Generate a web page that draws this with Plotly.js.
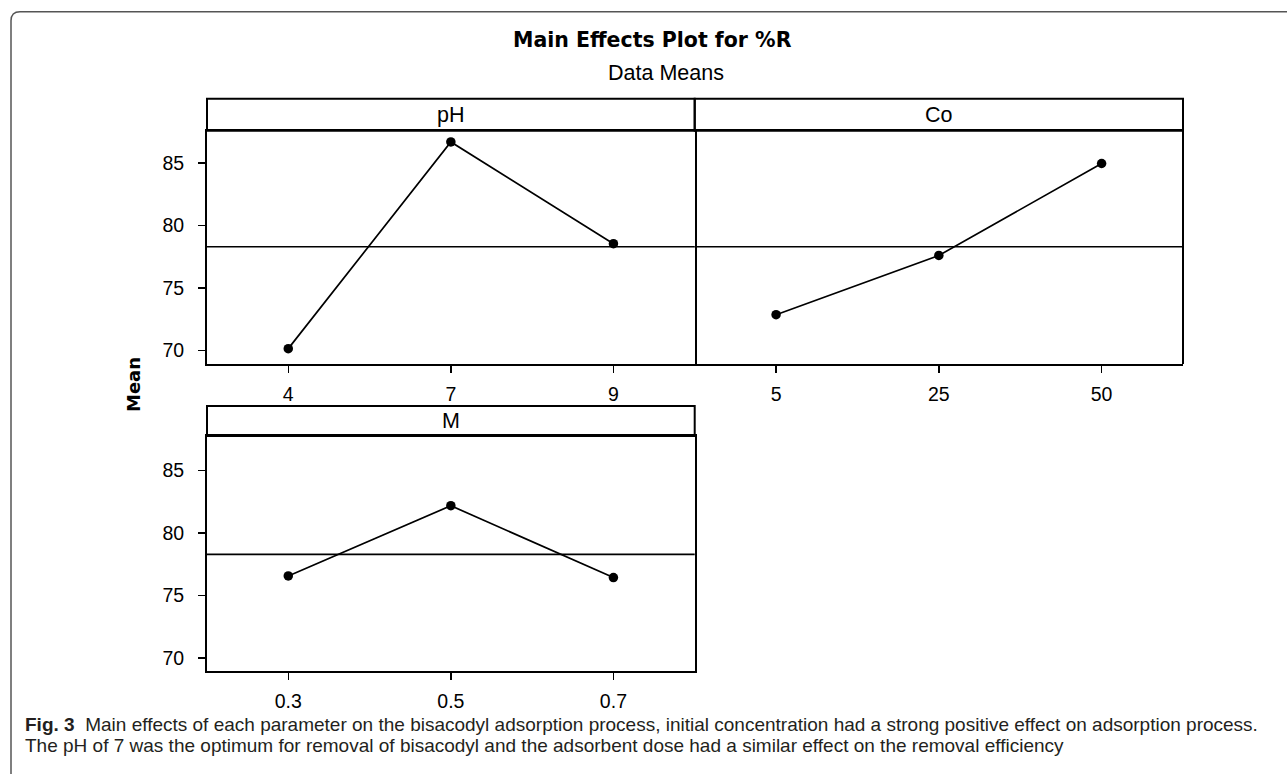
<!DOCTYPE html>
<html>
<head>
<meta charset="utf-8">
<script src="https://cdn.plot.ly/plotly-3.0.1.min.js"></script>
<style>html,body{margin:0;padding:0;background:#fff;}#chart{width:1287px;height:774px;}</style>
</head>
<body>
<div id="chart"></div>
<script>
// ---- data ----
const phLevels = ['4', '7', '9'];
const phMeans = [70.13, 86.70, 78.54];
const coLevels = ['5', '25', '50'];
const coMeans = [72.85, 77.60, 84.97];
const mLevels = ['0.3', '0.5', '0.7'];
const mMeans = [76.57, 82.18, 76.44];
const grandMean = 78.3;
const panelNames = ['pH', 'Co', 'M'];
const yTicks = [70, 75, 80, 85];
const titleText = 'Main Effects Plot for %R';
const subtitleText = 'Data Means';
const yTitleText = 'Mean';
const captionLabel = 'Fig. 3';
const captionLine1 = 'Main effects of each parameter on the bisacodyl adsorption process, initial concentration had a strong positive effect on adsorption process.';
const captionLine2 = 'The pH of 7 was the optimum for removal of bisacodyl and the adsorbent dose had a similar effect on the removal efficiency';

const W = 1287, H = 774;
const px = v => v / W;
const py = v => 1 - v / H;

const FONT = 'Liberation Sans, Arial, sans-serif';
const BFONT = 'DejaVu Sans, Verdana, sans-serif';

function lineTrace(xs, ys, xa, ya) {
  return {
    type: 'scatter', mode: 'lines+markers', x: xs, y: ys,
    xaxis: xa, yaxis: ya,
    line: {color: '#000', width: 1.7},
    marker: {color: '#000', size: 9.5, symbol: 'circle'},
    hoverinfo: 'x+y', showlegend: false, cliponaxis: false
  };
}

const data = [
  lineTrace(phLevels, phMeans, 'x', 'y'),
  lineTrace(coLevels, coMeans, 'x2', 'y2'),
  lineTrace(mLevels, mMeans, 'x3', 'y3')
];

const yRangeTop = [68.9, 87.6];
const yRangeBot = [69.0, 87.75];

function xAxis(domain, anchor) {
  return {
    domain: domain, anchor: anchor, type: 'category', range: [-0.5, 2.5],
    showline: true, linecolor: '#000', linewidth: 2, mirror: true,
    ticks: 'outside', ticklen: 7, tickwidth: 1.5, tickcolor: '#000',
    showgrid: false, zeroline: false, fixedrange: true,
    tickfont: {family: FONT, size: 19.5, color: '#000'},
    ticklabelstandoff: 5
  };
}
function yAxis(domain, anchor, range, showLabels, showLine) {
  return {
    domain: domain, anchor: anchor, range: range,
    tickvals: yTicks, ticktext: yTicks.map(String),
    showticklabels: showLabels,
    ticks: showLabels ? 'outside' : '', ticklen: 7, tickwidth: 1.5, tickcolor: '#000',
    showline: showLine, linecolor: '#000', linewidth: 2, mirror: true,
    showgrid: false, zeroline: false, fixedrange: true,
    tickfont: {family: FONT, size: 19.5, color: '#000'},
    ticklabelstandoff: 10
  };
}

const xL = [px(207), px(694.7)];
const xR = [px(694.7), px(1183)];
const yTop = [py(364), py(130.7)];
const yBot = [py(670.7), py(436)];

const shapes = [];
const annotations = [];

// header strips
const headers = [
  {name: panelNames[0], x0: 207, x1: 694.7, y0: 98.7, y1: 130.7},
  {name: panelNames[1], x0: 694.7, x1: 1183, y0: 98.7, y1: 130.7},
  {name: panelNames[2], x0: 207, x1: 694.7, y0: 406, y1: 436}
];
headers.forEach(h => {
  shapes.push({type: 'rect', xref: 'paper', yref: 'paper',
    x0: px(h.x0), x1: px(h.x1), y0: py(h.y1), y1: py(h.y0),
    line: {color: '#000', width: 2}, fillcolor: 'rgba(0,0,0,0)'});
  annotations.push({xref: 'paper', yref: 'paper', x: px((h.x0 + h.x1) / 2), y: py((h.y0 + h.y1) / 2),
    text: h.name, showarrow: false, xanchor: 'center', yanchor: 'middle',
    font: {family: FONT, size: 21.5, color: '#000'}});
});

// right edge of the Co panel (its left edge is shared with the pH panel)
shapes.push({type: 'line', xref: 'x2 domain', yref: 'y2 domain', x0: 1, x1: 1, y0: 0, y1: 1,
  line: {color: '#000', width: 2}});

// grand mean reference lines
[['x', 'y'], ['x2', 'y2'], ['x3', 'y3']].forEach(([xa, ya]) => {
  shapes.push({type: 'line', xref: xa + ' domain', yref: ya, x0: 0, x1: 1, y0: grandMean, y1: grandMean,
    line: {color: '#000', width: 1.7}, layer: 'below'});
});

// outer rounded frame
const fx = px(11), fy = py(11.7), r = 9;
shapes.push({type: 'path', xref: 'paper', yref: 'paper',
  path: `M ${px(11)},${py(790)} L ${fx},${py(11.7 + r)} Q ${fx},${fy} ${px(11 + r)},${fy} L ${px(1300)},${fy}`,
  line: {color: '#555', width: 1.5}});

// titles
annotations.push({xref: 'paper', yref: 'paper', x: px(652), y: py(40), text: '<b>' + titleText + '</b>',
  showarrow: false, xanchor: 'center', yanchor: 'middle', font: {family: BFONT, size: 20.5, color: '#000'}});
annotations.push({xref: 'paper', yref: 'paper', x: px(666), y: py(73), text: subtitleText,
  showarrow: false, xanchor: 'center', yanchor: 'middle', font: {family: FONT, size: 21.5, color: '#000'}});
annotations.push({xref: 'paper', yref: 'paper', x: px(134), y: py(385), text: '<b>' + yTitleText + '</b>', textangle: -90,
  showarrow: false, xanchor: 'center', yanchor: 'middle', font: {family: BFONT, size: 18, color: '#000'}});

// caption
annotations.push({xref: 'paper', yref: 'paper', x: px(23), y: py(724.5),
  text: '<b>' + captionLabel + '</b>  ' + captionLine1,
  showarrow: false, xanchor: 'left', yanchor: 'middle', align: 'left',
  font: {family: FONT, size: 19, color: '#231f20'}});
annotations.push({xref: 'paper', yref: 'paper', x: px(23), y: py(745.5),
  text: captionLine2,
  showarrow: false, xanchor: 'left', yanchor: 'middle', align: 'left',
  font: {family: FONT, size: 19, color: '#231f20'}});

const layout = {
  width: W, height: H,
  margin: {l: 0, r: 0, t: 0, b: 0},
  paper_bgcolor: '#fff', plot_bgcolor: '#fff',
  showlegend: false,
  xaxis: xAxis(xL, 'y'),
  yaxis: yAxis(yTop, 'x', yRangeTop, true, true),
  xaxis2: xAxis(xR, 'y2'),
  yaxis2: yAxis(yTop, 'x2', yRangeTop, false, false),
  xaxis3: xAxis(xL, 'y3'),
  yaxis3: yAxis(yBot, 'x3', yRangeBot, true, true),
  shapes: shapes,
  annotations: annotations
};

Plotly.newPlot('chart', data, layout, {displayModeBar: false, staticPlot: true});
</script>
</body>
</html>
